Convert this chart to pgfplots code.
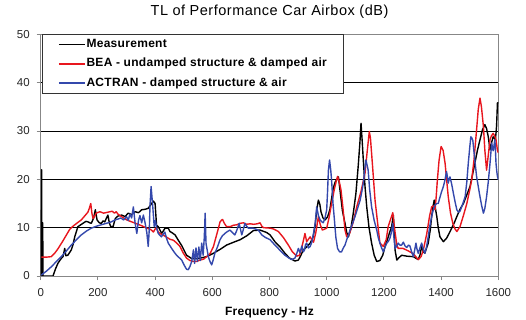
\documentclass[border=0pt]{standalone}
\usepackage{pgfplots}
\pgfplotsset{compat=1.18}
\usepackage{fontspec}
\setmainfont{Liberation Sans}
\definecolor{beared}{RGB}{232,22,30}
\definecolor{actblue}{RGB}{52,72,172}
\definecolor{framegray}{RGB}{135,135,135}
\begin{document}
\begin{tikzpicture}
\path[use as bounding box] (-40.7bp,-44bp) rectangle (485.3bp,276bp);
\begin{axis}[
  at={(0,0)}, anchor=south west,
  scale only axis, width=457.6bp, height=241.7bp,
  xmin=0, xmax=1600, ymin=0, ymax=50,
  xtick={0,200,...,1600}, ytick={0,10,...,50},
  ymajorgrids, major grid style={black, line width=0.7bp},
  axis line style={framegray, line width=0.9bp},
  tick style={framegray, line width=0.9bp},
  tick align=outside, major tick length=4bp, tick pos=left,
  /pgf/number format/assume math mode=true,
  /pgf/number format/1000 sep={},
  tick label style={font=\fontsize{11.5bp}{13bp}\selectfont, text=black!85},
  xticklabel style={yshift=-5bp},
  yticklabel style={xshift=-3.5bp},
  title={TL of Performance Car Airbox (dB)},
  title style={font=\fontsize{14.5bp}{17bp}\selectfont\addfontfeatures{LetterSpace=3.5}, at={(axis description cs:0.5,1)}, anchor=base, yshift=12.6bp},
  xlabel={Frequency - Hz},
  x label style={font=\fontsize{12bp}{14bp}\selectfont\bfseries\addfontfeatures{LetterSpace=2}, at={(axis description cs:0.5,0)}, anchor=base, yshift=-39bp},
  legend style={at={(axis description cs:0.0022,1)}, anchor=north west,
    draw=black!80, line width=0.8bp, fill=white,
    font=\fontsize{12bp}{14bp}\selectfont\bfseries\addfontfeatures{LetterSpace=2.5},
    inner xsep=16bp, inner ysep=3.3bp, row sep=6.2bp,
    nodes={inner sep=1bp, text height=8.6bp, text depth=2.5bp}},
  legend cell align=left,
  legend image code/.code={\draw[#1] (0bp,0bp) -- (26bp,0bp);},
  every axis plot/.append style={line width=1.4bp, line join=round},
]
\addplot[black] coordinates {
(2,0)(3,22)(4,0)(5,11)(6,0)(7,11)(8,0)(43,0)(52,1.5)(60,2.6)(70,3.5)(78,4.0)(84,5.7)(88,4.2)(95,4.3)(107,5.4)(113,6.5)(119,8.1)(130,10.2)(140,10.6)(148,10.9)(158,11.3)(165,11.2)(172,11.0)(177,10.9)(185,12.0)(191,13.7)(197,11.6)(205,11.0)(212,10.9)(218,11.4)(224,11.2)(230,12.0)(235,12.6)(240,11.0)(245,10.2)(253,10.2)(261,11.9)(270,12.4)(283,12.6)(295,12.3)(306,13.0)(318,12.7)(330,13.3)(342,13.1)(353,13.7)(365,13.8)(376,14.0)(388,15.0)(394,15.5)(400,15.0)(405,10.5)(411,10.2)(423,8.8)(435,9.9)(446,9.9)(452,9.2)(458,9.0)(470,8.5)(480,7.5)(493,6.3)(510,4.3)(528,3.6)(545,3.6)(557,3.7)(580,4.0)(604,4.7)(627,5.5)(650,6.4)(675,7.0)(697,7.5)(720,8.3)(744,9.4)(767,9.5)(790,9.0)(802,8.5)(819,7.1)(837,6.0)(854,4.7)(870,3.7)(889,3.1)(901,3.3)(910,4.3)(918,5.4)(930,6.0)(942,6.8)(952,8.0)(959,10.2)(966,14.0)(971,15.7)(976,14.8)(980,13.3)(987,12.0)(994,11.6)(1003,12.2)(1011,13.7)(1017,16.0)(1023,18.2)(1030,19.5)(1035,19.9)(1041,20.5)(1047,17.5)(1055,13.5)(1064,10.9)(1070,9.0)(1076,8.1)(1085,10.0)(1093,13.0)(1102,17.0)(1110,22.6)(1116,27.5)(1120,31.6)(1124,28.0)(1128,24.0)(1134,18.5)(1140,14.3)(1148,10.0)(1157,6.8)(1166,4.3)(1175,3.0)(1186,3.2)(1196,4.3)(1204,6.1)(1212,7.5)(1220,9.0)(1227,10.2)(1233,12.6)(1236,9.0)(1239,5.4)(1245,3.3)(1253,3.8)(1262,4.3)(1280,4.1)(1303,4.0)(1320,3.4)(1326,4.3)(1332,6.1)(1338,5.0)(1343,4.7)(1355,6.8)(1362,9.5)(1367,12.3)(1372,14.5)(1376,15.7)(1380,14.0)(1385,12.3)(1390,10.0)(1396,8.1)(1408,7.1)(1419,7.8)(1428,8.8)(1437,9.9)(1446,11.0)(1455,12.3)(1466,13.8)(1478,15.0)(1490,16.8)(1501,18.5)(1510,21.0)(1518,23.3)(1527,26.0)(1536,28.2)(1545,30.3)(1553,31.3)(1559,30.5)(1565,28.8)(1571,26.1)(1576,27.5)(1582,28.8)(1590,28.2)(1594,31.0)(1597,35.8)(1600,35.8)
};
\addlegendentry{Measurement}
\addplot[beared] coordinates {
(2,3.9)(20,3.9)(37,4.0)(50,4.8)(60,5.6)(75,7.0)(90,8.5)(102,9.7)(113,10.3)(128,11.0)(142,11.6)(155,12.5)(165,13.2)(170,14.0)(175,15.0)(179,13.0)(183,11.9)(188,12.3)(194,13.0)(207,13.3)(220,13.0)(235,13.2)(250,13.4)(258,13.0)(264,13.3)(270,12.8)(285,12.2)(301,11.6)(318,11.2)(336,10.8)(353,10.4)(371,9.9)(385,9.6)(394,9.1)(400,9.7)(405,10.0)(410,9.2)(417,8.8)(430,8.4)(441,8.0)(452,7.6)(464,7.4)(476,6.8)(487,6.1)(498,4.8)(510,3.7)(522,3.2)(534,3.0)(545,3.0)(557,3.3)(570,3.5)(580,4.0)(592,4.6)(604,6.1)(615,8.5)(622,10.0)(627,11.2)(633,11.6)(636,11.7)(642,10.9)(650,10.2)(662,10.2)(674,10.5)(686,10.6)(697,10.9)(709,11.0)(720,10.7)(732,10.8)(745,10.7)(757,10.8)(767,11.0)(773,10.3)(779,10.0)(802,9.9)(815,9.7)(831,9.2)(848,8.0)(866,6.4)(880,5.0)(895,4.1)(905,4.3)(912,5.7)(918,7.2)(924,8.8)(930,7.1)(936,7.6)(942,8.1)(948,7.5)(954,7.0)(962,9.0)(971,12.3)(978,10.5)(985,9.5)(1000,9.9)(1008,12.0)(1017,15.0)(1027,18.0)(1033,19.5)(1038,20.6)(1044,19.5)(1050,17.8)(1057,14.0)(1064,9.5)(1070,8.1)(1080,8.8)(1092,11.0)(1105,14.3)(1120,17.5)(1134,21.3)(1142,26.0)(1149,29.9)(1153,28.5)(1160,23.0)(1169,15.7)(1178,11.0)(1186,6.8)(1198,6.1)(1208,7.5)(1215,10.2)(1222,11.5)(1231,13.1)(1238,9.5)(1245,6.5)(1250,5.7)(1267,5.7)(1285,5.2)(1303,4.6)(1320,3.4)(1330,4.0)(1338,5.4)(1350,8.8)(1360,12.5)(1367,14.3)(1373,14.5)(1379,13.7)(1383,16.5)(1387,19.9)(1393,24.0)(1400,26.8)(1407,26.0)(1414,23.3)(1420,19.5)(1425,16.4)(1433,13.0)(1441,10.9)(1448,9.8)(1455,9.2)(1466,10.2)(1478,12.5)(1490,15.0)(1500,17.8)(1507,19.9)(1515,24.0)(1524,30.2)(1530,34.5)(1536,36.8)(1541,35.0)(1548,30.9)(1553,26.0)(1559,21.9)(1565,25.0)(1571,28.2)(1576,29.0)(1582,29.5)(1587,29.0)(1592,28.2)(1597,26.0)(1600,25.5)
};
\addlegendentry{BEA - undamped structure \& damped air}
\addplot[actblue] coordinates {
(2,0.2)(20,1.0)(37,1.9)(55,3.0)(72,4.0)(90,5.2)(107,6.4)(125,7.5)(142,8.5)(160,9.3)(177,9.9)(195,10.3)(212,10.6)(230,10.9)(247,11.2)(260,11.6)(271,11.8)(280,12.0)(290,11.6)(300,12.3)(306,11.5)(312,12.8)(318,12.0)(324,14.3)(330,11.0)(336,8.8)(342,11.5)(347,12.5)(353,11.0)(359,12.6)(365,11.0)(371,9.0)(376,6.1)(380,10.0)(382,14.3)(386,18.5)(391,15.0)(397,10.2)(401,11.5)(406,9.8)(411,8.8)(422,8.1)(428,8.6)(434,9.1)(440,7.8)(446,6.8)(458,5.7)(466,5.0)(475,4.3)(484,3.8)(493,3.3)(502,2.2)(510,1.4)(516,1.3)(522,2.0)(528,3.0)(534,5.4)(538,2.6)(543,5.8)(548,3.0)(553,6.0)(558,3.2)(563,6.8)(568,4.3)(572,8.0)(575,13.0)(578,6.8)(586,4.0)(592,3.0)(598,2.3)(604,3.5)(609,4.7)(618,6.0)(627,7.5)(635,8.3)(644,8.8)(653,9.2)(662,9.5)(670,9.0)(679,8.5)(686,9.5)(694,10.9)(703,8.5)(708,9.5)(714,10.9)(720,10.3)(726,9.9)(735,9.9)(743,9.9)(752,9.7)(761,9.5)(767,9.0)(773,8.5)(785,8.0)(802,7.5)(819,6.4)(837,5.3)(854,4.3)(866,3.8)(877,3.4)(889,3.7)(895,4.6)(901,5.7)(907,4.8)(913,6.2)(918,5.0)(922,5.3)(926,6.5)(930,6.8)(936,5.8)(942,6.1)(948,7.0)(954,8.8)(960,11.0)(965,14.3)(971,12.5)(977,11.6)(983,11.2)(988,11.0)(994,12.0)(1000,13.7)(1003,17.5)(1006,21.9)(1010,24.0)(1014,22.0)(1017,19.9)(1022,15.0)(1026,12.3)(1032,8.0)(1038,5.7)(1045,5.0)(1052,5.0)(1058,5.8)(1064,6.4)(1070,7.5)(1085,10.0)(1099,12.3)(1108,14.0)(1117,15.7)(1123,17.5)(1128,19.2)(1133,22.0)(1137,24.0)(1141,23.0)(1145,21.9)(1150,18.0)(1157,14.3)(1166,11.5)(1175,9.5)(1180,8.0)(1186,6.8)(1192,5.8)(1198,5.0)(1204,6.0)(1210,6.8)(1216,7.2)(1221,7.8)(1226,9.0)(1231,10.9)(1235,8.0)(1239,5.7)(1245,6.2)(1250,6.8)(1256,6.4)(1262,6.4)(1268,7.0)(1274,6.2)(1280,5.9)(1286,6.4)(1291,6.2)(1297,5.0)(1303,4.0)(1308,5.5)(1312,6.8)(1316,5.5)(1320,4.7)(1326,5.8)(1332,6.8)(1338,5.5)(1343,4.7)(1349,6.0)(1355,8.1)(1361,10.5)(1367,12.3)(1373,13.8)(1379,14.7)(1385,15.0)(1390,15.0)(1396,16.3)(1402,17.5)(1408,18.5)(1414,20.0)(1419,21.6)(1422,20.5)(1425,19.2)(1428,20.0)(1431,20.5)(1437,19.0)(1443,17.1)(1449,15.3)(1455,13.7)(1461,13.2)(1466,13.4)(1475,14.8)(1484,16.4)(1490,19.5)(1495,23.3)(1500,26.5)(1504,28.8)(1508,28.5)(1511,28.0)(1517,24.5)(1524,20.6)(1530,18.5)(1536,16.4)(1542,14.5)(1548,13.0)(1553,14.0)(1559,16.4)(1565,19.5)(1571,23.3)(1574,25.5)(1577,27.5)(1580,26.5)(1582,25.9)(1585,27.0)(1588,28.2)(1590,26.0)(1592,23.3)(1595,21.5)(1597,20.6)(1600,19.9)
};
\addlegendentry{ACTRAN - damped structure \& air}
\end{axis}
\end{tikzpicture}
\end{document}
